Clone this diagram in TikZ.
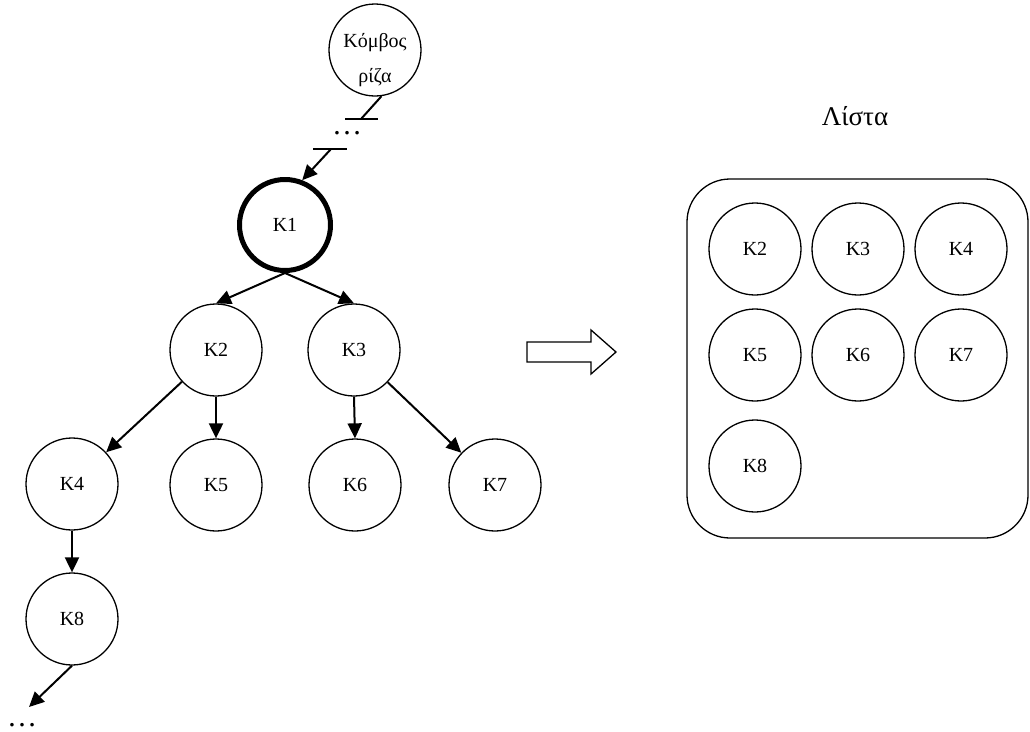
\documentclass[tikz,border=0pt]{standalone}
\usepackage{fontspec}
\setmainfont{Liberation Serif}
\usetikzlibrary{arrows.meta,shapes.geometric}
\begin{document}
\begin{tikzpicture}[x=1pt,y=-1pt,
  nd/.style={circle,draw,line width=1.3pt,minimum size=92pt,inner sep=0pt,font=\fontsize{20}{24}\selectfont},
  arr/.style={line width=2pt,-{Triangle[length=15pt,width=14pt]}},
  lead/.style={line width=2pt},
  bar/.style={line width=1.8pt},
  dotsnode/.style={font=\fontsize{30}{30}\selectfont,inner sep=0pt,anchor=base,text depth=0pt,text height=4pt}]
\useasboundingbox (0,0) rectangle (1030,731);
% root
\node[nd] (root) at (375,50) {};
\node[anchor=north,inner sep=0pt,align=center,font=\fontsize{20}{35}\selectfont] (rootlbl) at (375,33) {Κόμβος\\ρίζα};
\coordinate (b1) at (361,119);
\coordinate (b1l) at (345,119);
\coordinate (b1r) at (378,119);
\draw[lead] (root.-82) -- (b1);
\draw[bar] (b1l) -- (b1r);
\node[dotsnode] (dots1) at (347,134) {…};
\coordinate (b2) at (331,149);
\coordinate (b2l) at (313,149);
\coordinate (b2r) at (347,149);
\draw[bar] (b2l) -- (b2r);
% tree
\node[nd,line width=5pt,minimum size=91pt] (K1) at (285,225) {K1};
\node[nd] (K2) at (216,350) {K2};
\node[nd] (K3) at (354,350) {K3};
\node[nd] (K4) at (72,484) {K4};
\node[nd] (K5) at (216,485) {K5};
\node[nd] (K6) at (355,485) {K6};
\node[nd] (K7) at (495,485) {K7};
\node[nd] (K8) at (72,619) {K8};
\coordinate (d2) at (29,707);
\node[dotsnode] (dots2) at (22,726) {…};
\draw[arr] (b2) -- (K1.69);
\draw[arr] (K1.south) -- (K2.north);
\draw[arr] (K1.south) -- (K3.north);
\draw[arr] (K2) -- (K4);
\draw[arr] (K2.south) -- (K5.north);
\draw[arr] (K3.south) -- (K6.north);
\draw[arr] (K3) -- (K7);
\draw[arr] (K4.south) -- (K8.north);
\draw[arr] (K8.south) -- (d2);
% block arrow
\draw[line width=1.3pt,line join=miter] (527,342) -- (591,342) -- (591,330) -- (616,352) -- (591,374) -- (591,362) -- (527,362) -- cycle;
% list
\node[anchor=base,font=\fontsize{27}{32}\selectfont,inner sep=0pt] (title) at (855,125) {Λίστα};
\node[draw,line width=1.3pt,rounded corners=43pt,minimum width=341pt,minimum height=359pt,inner sep=0pt] (list) at (857.5,358.5) {};
\node[nd] (l2) at (755,249) {K2};
\node[nd] (l3) at (858,249) {K3};
\node[nd] (l4) at (961,249) {K4};
\node[nd] (l5) at (755,355) {K5};
\node[nd] (l6) at (858,355) {K6};
\node[nd] (l7) at (961,355) {K7};
\node[nd] (l8) at (755,466) {K8};
\end{tikzpicture}
\end{document}
